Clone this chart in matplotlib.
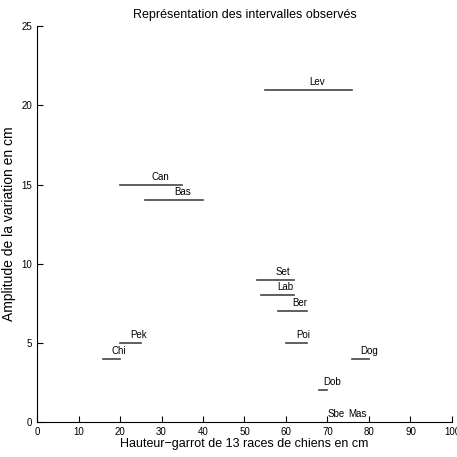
import numpy as np
import matplotlib.pyplot as plt

plt.rcParams['font.family'] = ['Liberation Sans Narrow', 'Liberation Sans', 'DejaVu Sans']

# hauteur au garrot (min, max) en cm
races = ['Lev', 'Can', 'Bas', 'Set', 'Lab', 'Ber', 'Poi', 'Pek', 'Chi', 'Dog', 'Dob', 'Sbe', 'Mas']
h_min = [55, 20, 26, 53, 54, 58, 60, 20, 16, 76, 68, 70, 75]
h_max = [76, 35, 40, 62, 62, 65, 65, 25, 20, 80, 70, 70, 75]

h_min = np.array(h_min)
h_max = np.array(h_max)
amp = h_max - h_min
centre = (h_min + h_max) / 2

fig = plt.figure(figsize=(4.57, 4.57), dpi=100)
ax = fig.add_axes([0.081, 0.0766, 0.908, 0.866])

for i, nom in enumerate(races):
    ax.plot([h_min[i], h_max[i]], [amp[i], amp[i]], color='#444444', lw=1.2)
    ax.text(centre[i], amp[i] + 0.5, nom, ha='left', va='center', fontsize=7)

ax.set_xlim(0, 100)
ax.set_ylim(0, 25)
ax.set_xticks(np.arange(0, 101, 10))
ax.set_yticks(np.arange(0, 26, 5))
ax.tick_params(direction='in', length=4, labelsize=7, width=0.8)
for s in ['top', 'right']:
    ax.spines[s].set_visible(False)
for s in ['left', 'bottom']:
    ax.spines[s].set_linewidth(0.8)
ax.set_xlabel('Hauteur\u2212garrot de 13 races de chiens en cm', fontsize=9, labelpad=1)
ax.set_ylabel('Amplitude de la variation en cm', fontsize=10, labelpad=4)
ax.set_title('Représentation des intervalles observés', fontsize=9, pad=6)

fig.savefig('out.png')
